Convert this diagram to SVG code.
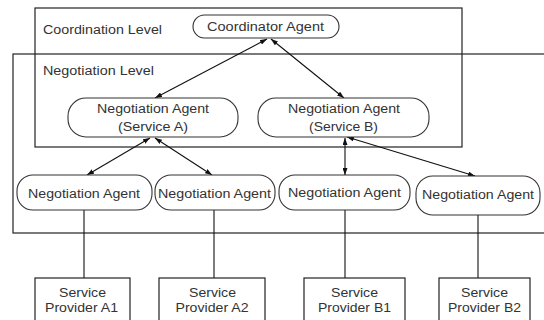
<svg xmlns="http://www.w3.org/2000/svg" width="544" height="320" viewBox="0 0 544 320">
<defs>
<marker id="ah" viewBox="0 0 10 10" refX="10" refY="5" markerWidth="7" markerHeight="5" markerUnits="userSpaceOnUse" orient="auto-start-reverse" preserveAspectRatio="none">
<path d="M0,0 L10,5 L0,10 z" fill="#111"/>
</marker>
</defs>
<style>
.lvl{fill:none;stroke:#222;stroke-width:1.2}
.node{fill:#fff;stroke:#333;stroke-width:1.1}
.box{fill:#fff;stroke:#222;stroke-width:1.2}
.t{font-family:"Liberation Sans",Arial,sans-serif;font-size:12.5px;fill:#333}
.c{stroke:#111;stroke-width:1.1;fill:none}
.a{marker-start:url(#ah);marker-end:url(#ah)}
</style>
<rect width="544" height="320" fill="#fff"/>
<g id="negotiation-level">
<rect class="lvl" x="13" y="54" width="545" height="179"/>
<text class="t" x="43" y="75" textLength="111" lengthAdjust="spacingAndGlyphs">Negotiation Level</text>
</g>
<g id="coordination-level">
<rect class="lvl" x="35" y="8" width="427" height="139"/>
<text class="t" x="43" y="34" textLength="119" lengthAdjust="spacingAndGlyphs">Coordination Level</text>
</g>
<g id="connectors">
<line class="c a" x1="267" y1="39" x2="155" y2="98"/>
<line class="c a" x1="271" y1="39" x2="344" y2="98"/>
<line class="c a" x1="150" y1="138" x2="87" y2="175"/>
<line class="c a" x1="155" y1="138" x2="212" y2="175"/>
<line class="c a" x1="345" y1="138" x2="345" y2="175"/>
<line class="c a" x1="347" y1="137" x2="475" y2="176"/>
<line class="c" x1="84" y1="210" x2="84" y2="278"/>
<line class="c" x1="214" y1="210" x2="214" y2="278"/>
<line class="c" x1="345" y1="210" x2="345" y2="278"/>
<line class="c" x1="478" y1="215" x2="478" y2="278"/>
</g>
<g id="coordinator-agent">
<rect class="node" x="193" y="15" width="146" height="23" rx="11.5"/>
<text class="t" x="207" y="31" textLength="117" lengthAdjust="spacingAndGlyphs">Coordinator Agent</text>
</g>
<g id="negotiation-agent-a">
<rect class="node" x="68" y="98" width="170" height="39" rx="18"/>
<text class="t" x="97" y="113" textLength="112" lengthAdjust="spacingAndGlyphs">Negotiation Agent</text>
<text class="t" x="118" y="131" textLength="70" lengthAdjust="spacingAndGlyphs">(Service A)</text>
</g>
<g id="negotiation-agent-b">
<rect class="node" x="258" y="98" width="171" height="39" rx="18"/>
<text class="t" x="288" y="113" textLength="112" lengthAdjust="spacingAndGlyphs">Negotiation Agent</text>
<text class="t" x="309" y="131" textLength="69" lengthAdjust="spacingAndGlyphs">(Service B)</text>
</g>
<g id="negotiation-agent-1">
<rect class="node" x="17" y="175" width="135" height="35" rx="16"/>
<text class="t" x="28" y="198" textLength="112" lengthAdjust="spacingAndGlyphs">Negotiation Agent</text>
</g>
<g id="negotiation-agent-2">
<rect class="node" x="155" y="175" width="120" height="35" rx="16"/>
<text class="t" x="158" y="198" textLength="113" lengthAdjust="spacingAndGlyphs">Negotiation Agent</text>
</g>
<g id="negotiation-agent-3">
<rect class="node" x="279" y="175" width="131" height="35" rx="16"/>
<text class="t" x="288" y="197" textLength="113" lengthAdjust="spacingAndGlyphs">Negotiation Agent</text>
</g>
<g id="negotiation-agent-4">
<rect class="node" x="416" y="176" width="124" height="39" rx="17"/>
<text class="t" x="422" y="199" textLength="112" lengthAdjust="spacingAndGlyphs">Negotiation Agent</text>
</g>
<g id="service-provider-a1">
<rect class="box" x="35" y="278" width="95" height="60"/>
<text class="t" x="59" y="297" textLength="47" lengthAdjust="spacingAndGlyphs">Service</text>
<text class="t" x="45" y="312" textLength="73" lengthAdjust="spacingAndGlyphs">Provider A1</text>
</g>
<g id="service-provider-a2">
<rect class="box" x="159" y="278" width="106" height="60"/>
<text class="t" x="189" y="297" textLength="47" lengthAdjust="spacingAndGlyphs">Service</text>
<text class="t" x="175.5" y="312" textLength="73" lengthAdjust="spacingAndGlyphs">Provider A2</text>
</g>
<g id="service-provider-b1">
<rect class="box" x="304" y="278" width="101" height="60"/>
<text class="t" x="331" y="297" textLength="47" lengthAdjust="spacingAndGlyphs">Service</text>
<text class="t" x="318" y="312" textLength="73" lengthAdjust="spacingAndGlyphs">Provider B1</text>
</g>
<g id="service-provider-b2">
<rect class="box" x="439" y="278" width="91" height="60"/>
<text class="t" x="461" y="297" textLength="47" lengthAdjust="spacingAndGlyphs">Service</text>
<text class="t" x="448" y="312" textLength="73" lengthAdjust="spacingAndGlyphs">Provider B2</text>
</g>
</svg>
